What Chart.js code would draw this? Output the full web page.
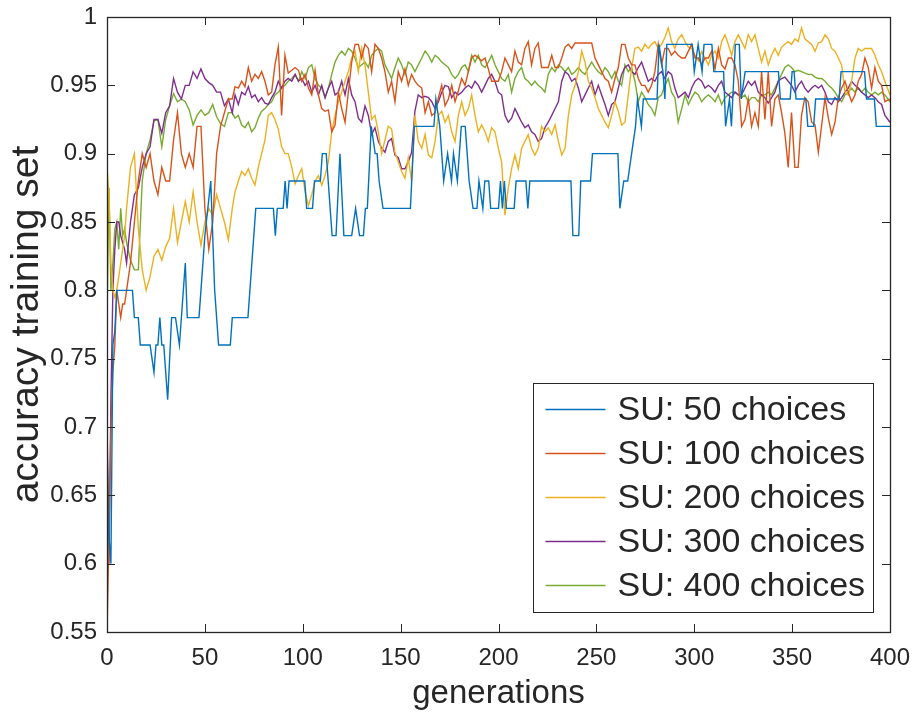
<!DOCTYPE html>
<html>
<head>
<meta charset="utf-8">
<script src="https://cdn.jsdelivr.net/npm/chart.js@4.4.0/dist/chart.umd.min.js"></script>
<style>
  html, body { margin: 0; padding: 0; background: #fff; }
  #wrap { width: 913px; height: 718px; }
</style>
</head>
<body>
<div id="wrap"><canvas id="accChart" width="913" height="718"></canvas></div>
<script>
// generations at which the 100/200/300/400 runs were read
const gens = [
  0,1,2,3,4,5,6,7,8,9,10,12,14,16,18,20,22,24,26,28,30,32,34,36,38,40,42,44,46,48,50,52,54,56,58,60,62,64,
  65.4,67.1,68.8,70.5,72.2,73.9,75.6,77.3,79.0,80.7,82.4,84.1,85.8,87.5,89.2,90.9,92.6,94.4,96.1,97.8,99.5,101.2,102.9,104.6,106.3,108.0,109.7,111.4,113.1,114.8,116.5,118.2,119.9,121.6,123.3,125.0,126.7,128.4,130.1,
  131.8,133.5,135.2,136.9,138.6,140.3,142.0,143.7,145.4,147.1,148.8,150.5,152.2,153.9,155.6,157.3,159.0,160.8,162.5,164.2,165.9,167.6,169.3,171.0,172.7,174.4,176.1,177.8,179.5,181.2,182.9,184.6,186.3,188.0,189.7,191.4,193.1,194.8,196.5,
  198.2,199.9,201.6,203.3,205.0,206.7,208.4,210.1,211.8,213.5,215.2,216.9,218.6,220.3,222.0,223.7,225.4,227.2,228.9,230.6,232.3,234.0,235.7,237.4,239.1,240.8,242.5,244.2,245.9,247.6,249.3,251.0,252.7,254.4,256.1,257.8,259.5,261.2,262.9,
  264.6,266.3,268.0,269.7,271.4,273.1,274.8,276.5,278.2,279.9,281.6,283.3,285.0,286.7,288.4,290.1,291.8,293.6,295.3,297.0,298.7,300.4,302.1,303.8,305.5,307.2,308.9,310.6,312.3,314.0,315.7,317.4,319.1,320.8,322.5,324.2,325.9,327.6,329.3,
  331.0,332.7,334.4,336.1,337.8,339.5,341.2,342.9,344.6,346.3,348.0,349.7,351.4,353.1,354.8,356.5,358.2,360.0,361.7,363.4,365.1,366.8,368.5,370.2,371.9,373.6,375.3,377.0,378.7,380.4,382.1,383.8,385.5,387.2,388.9,390.6,392.3,394.0,395.7,397.4,400
];

// the 50-choice run moves in steps of 0.02, so it keeps its own breakpoints
const gens50 = [
  0,1,2,3,4,5,13,14,16,17,22,24,25,26,27,28,29,31,33,35,37,40,41,47,48,50,53,55,57,63,64,72,76,
  85,86,87,90,91,92,93,101,102,105,106,109,110,112,113,115,117,119,121,125,127,129,131,132,133,135,137,138,139,141,
  155,157,167,168,170,171,172,174,176,177,179,181,183,185,187,189,190,192,193,195,196,200,201,202,203,204,208,209,
  214,215,216,237,238,241,242,247,248,261,262,264,266,268,270,271,273,274,281,282,284,285,286,299,300,302,304,305,
  309,310,315,316,318,319,321,323,324,326,343,344,349,350,351,352,357,358,361,362,374,375,387,388,392,393,400
];
const acc50 = [
  0.70,0.62,0.60,0.76,0.77,0.80,0.80,0.78,0.78,0.76,0.76,0.74,0.76,0.76,0.78,0.76,0.76,0.72,0.78,0.78,0.76,0.82,0.78,0.78,0.80,0.84,0.88,0.80,0.76,0.76,0.78,0.78,0.86,
  0.86,0.84,0.86,0.86,0.88,0.86,0.88,0.88,0.86,0.86,0.88,0.88,0.90,0.90,0.88,0.84,0.84,0.90,0.84,0.84,0.86,0.84,0.84,0.86,0.86,0.92,0.90,0.90,0.88,0.86,
  0.86,0.92,0.92,0.94,0.92,0.90,0.88,0.90,0.88,0.90,0.88,0.92,0.92,0.88,0.86,0.86,0.88,0.86,0.88,0.88,0.86,0.86,0.88,0.86,0.88,0.86,0.86,0.88,
  0.88,0.86,0.88,0.88,0.84,0.84,0.88,0.88,0.90,0.90,0.86,0.88,0.88,0.90,0.92,0.94,0.92,0.94,0.94,0.98,0.96,0.94,0.98,0.98,0.96,0.98,0.96,0.98,
  0.98,0.96,0.96,0.92,0.94,0.92,0.98,0.98,0.94,0.96,0.96,0.94,0.94,0.96,0.96,0.94,0.94,0.92,0.92,0.94,0.94,0.96,0.96,0.94,0.94,0.92,0.92
];

const acc100 = [
  0.55,0.62,0.70,0.74,0.76,0.80,0.79,0.78,0.79,0.79,0.80,0.82,0.85,0.88,0.90,0.89,0.90,0.88,0.87,0.89,0.88,0.88,0.91,0.93,0.90,0.89,0.90,0.89,0.92,0.92,0.86,0.83,0.85,0.90,0.92,0.93,0.94,0.94,
  0.949,0.948,0.953,0.949,0.963,0.953,0.958,0.955,0.960,0.953,0.943,0.945,0.965,0.978,0.928,0.972,0.959,0.961,0.963,0.961,0.953,0.958,0.948,0.943,0.961,0.943,0.933,0.931,0.932,0.916,0.921,0.945,0.933,0.923,0.945,0.967,0.980,0.980,0.970,
  0.980,0.977,0.960,0.980,0.977,0.970,0.960,0.945,0.953,0.938,0.960,0.953,0.962,0.950,0.958,0.953,0.950,0.948,0.930,0.938,0.928,0.930,0.941,0.950,0.935,0.940,0.950,0.938,0.946,0.955,0.950,0.960,0.970,0.972,0.970,0.968,0.970,0.962,0.953,
  0.953,0.953,0.960,0.970,0.965,0.960,0.975,0.967,0.965,0.977,0.982,0.965,0.977,0.981,0.963,0.963,0.963,0.972,0.963,0.963,0.970,0.978,0.980,0.977,0.981,0.981,0.981,0.981,0.981,0.981,0.970,0.965,0.960,0.955,0.953,0.945,0.955,0.963,0.980,
  0.980,0.970,0.965,0.965,0.955,0.950,0.950,0.945,0.950,0.960,0.980,0.965,0.977,0.977,0.972,0.975,0.972,0.970,0.970,0.975,0.980,0.970,0.970,0.965,0.970,0.970,0.975,0.962,0.977,0.965,0.962,0.970,0.970,0.965,0.953,0.920,0.925,0.940,0.920,
  0.930,0.920,0.960,0.925,0.960,0.920,0.940,0.943,0.930,0.915,0.890,0.930,0.890,0.890,0.928,0.941,0.938,0.923,0.921,0.901,0.921,0.941,0.926,0.914,0.923,0.941,0.948,0.953,0.945,0.938,0.943,0.953,0.958,0.970,0.963,0.948,0.963,0.953,0.950,0.938,0.940
];

const acc200 = [
  0.89,0.87,0.82,0.80,0.795,0.80,0.81,0.82,0.83,0.84,0.86,0.89,0.90,0.845,0.815,0.80,0.81,0.825,0.83,0.822,0.832,0.838,0.86,0.835,0.85,0.865,0.85,0.872,0.85,0.833,0.85,0.86,0.855,0.87,0.86,0.85,0.837,0.86,
  0.872,0.880,0.887,0.884,0.889,0.882,0.877,0.890,0.900,0.910,0.928,0.930,0.925,0.918,0.905,0.900,0.900,0.890,0.878,0.884,0.889,0.872,0.862,0.870,0.880,0.884,0.877,0.884,0.894,0.916,0.928,0.938,0.945,0.953,0.960,0.970,0.975,0.960,0.977,
  0.965,0.945,0.925,0.928,0.916,0.900,0.910,0.920,0.918,0.901,0.894,0.887,0.882,0.897,0.880,0.928,0.909,0.904,0.914,0.899,0.897,0.909,0.928,0.931,0.923,0.928,0.916,0.909,0.928,0.938,0.928,0.933,0.943,0.928,0.916,0.921,0.916,0.909,0.919,
  0.916,0.904,0.894,0.855,0.875,0.889,0.899,0.889,0.904,0.909,0.914,0.904,0.899,0.904,0.920,0.916,0.919,0.914,0.921,0.909,0.899,0.904,0.928,0.943,0.950,0.960,0.975,0.967,0.953,0.948,0.941,0.933,0.928,0.923,0.919,0.928,0.938,0.931,0.921,
  0.923,0.943,0.963,0.977,0.978,0.975,0.980,0.977,0.980,0.982,0.977,0.980,0.985,0.992,0.982,0.977,0.984,0.987,0.982,0.978,0.977,0.972,0.968,0.975,0.970,0.965,0.972,0.975,0.970,0.982,0.987,0.980,0.972,0.982,0.987,0.982,0.977,0.987,0.982,
  0.987,0.977,0.967,0.975,0.965,0.972,0.977,0.972,0.978,0.980,0.982,0.980,0.984,0.982,0.992,0.984,0.982,0.980,0.975,0.981,0.982,0.987,0.984,0.977,0.975,0.970,0.965,0.945,0.943,0.953,0.970,0.977,0.975,0.977,0.977,0.977,0.972,0.965,0.960,0.953,0.943
];

const acc300 = [
  0.69,0.60,0.72,0.80,0.83,0.85,0.85,0.84,0.835,0.83,0.82,0.85,0.87,0.875,0.89,0.90,0.905,0.925,0.925,0.915,0.93,0.935,0.955,0.945,0.94,0.95,0.95,0.96,0.955,0.962,0.955,0.952,0.95,0.945,0.945,0.935,0.94,0.93,
  0.943,0.936,0.945,0.943,0.949,0.941,0.943,0.938,0.941,0.937,0.936,0.941,0.945,0.953,0.948,0.953,0.955,0.953,0.958,0.953,0.955,0.950,0.953,0.945,0.950,0.943,0.950,0.941,0.948,0.953,0.943,0.945,0.953,0.943,0.955,0.943,0.938,0.926,0.923,
  0.935,0.928,0.914,0.919,0.909,0.904,0.901,0.909,0.911,0.899,0.897,0.889,0.889,0.894,0.901,0.931,0.943,0.941,0.942,0.941,0.938,0.933,0.938,0.945,0.950,0.949,0.941,0.945,0.943,0.945,0.948,0.950,0.948,0.953,0.950,0.945,0.950,0.955,0.958,
  0.953,0.945,0.943,0.928,0.923,0.926,0.933,0.928,0.923,0.919,0.921,0.916,0.914,0.909,0.911,0.919,0.923,0.928,0.933,0.938,0.953,0.960,0.958,0.953,0.955,0.948,0.938,0.943,0.948,0.953,0.943,0.950,0.943,0.936,0.928,0.936,0.938,0.948,0.958,
  0.963,0.965,0.960,0.958,0.963,0.967,0.960,0.953,0.955,0.953,0.958,0.960,0.955,0.960,0.958,0.948,0.941,0.943,0.945,0.941,0.948,0.953,0.955,0.953,0.948,0.950,0.948,0.945,0.950,0.953,0.945,0.943,0.941,0.945,0.943,0.943,0.948,0.953,0.950,
  0.953,0.945,0.943,0.941,0.937,0.941,0.945,0.953,0.955,0.956,0.953,0.950,0.945,0.950,0.953,0.948,0.945,0.948,0.950,0.948,0.950,0.945,0.938,0.936,0.941,0.938,0.941,0.945,0.948,0.953,0.950,0.948,0.945,0.943,0.941,0.943,0.941,0.938,0.936,0.928,0.923
];

const acc400 = [
  0.78,0.875,0.80,0.82,0.845,0.85,0.83,0.86,0.84,0.845,0.835,0.822,0.815,0.815,0.88,0.90,0.91,0.924,0.925,0.905,0.925,0.935,0.944,0.938,0.94,0.938,0.932,0.921,0.928,0.932,0.928,0.93,0.936,0.927,0.922,0.92,0.93,0.93,
  0.926,0.928,0.921,0.919,0.923,0.916,0.919,0.926,0.931,0.933,0.936,0.938,0.943,0.945,0.948,0.950,0.953,0.955,0.958,0.953,0.960,0.955,0.963,0.965,0.955,0.950,0.948,0.941,0.948,0.958,0.967,0.972,0.975,0.972,0.977,0.975,0.970,0.963,0.965,
  0.967,0.963,0.972,0.975,0.977,0.975,0.965,0.960,0.955,0.963,0.970,0.965,0.958,0.967,0.965,0.960,0.965,0.970,0.975,0.972,0.967,0.972,0.970,0.967,0.965,0.963,0.958,0.955,0.958,0.963,0.965,0.960,0.972,0.967,0.972,0.965,0.963,0.967,0.972,
  0.965,0.960,0.955,0.953,0.958,0.945,0.955,0.960,0.963,0.955,0.953,0.950,0.953,0.950,0.948,0.945,0.958,0.963,0.960,0.965,0.963,0.960,0.963,0.958,0.960,0.963,0.960,0.958,0.963,0.967,0.963,0.960,0.958,0.963,0.960,0.955,0.960,0.953,0.950,
  0.965,0.960,0.963,0.953,0.938,0.945,0.941,0.936,0.933,0.928,0.941,0.943,0.950,0.955,0.945,0.941,0.923,0.933,0.943,0.936,0.941,0.945,0.943,0.938,0.941,0.943,0.941,0.938,0.943,0.936,0.941,0.943,0.945,0.945,0.943,0.941,0.943,0.938,0.941,
  0.941,0.938,0.943,0.943,0.945,0.943,0.948,0.953,0.958,0.963,0.965,0.963,0.960,0.961,0.960,0.959,0.958,0.958,0.956,0.955,0.955,0.953,0.950,0.948,0.945,0.941,0.938,0.943,0.945,0.948,0.945,0.948,0.945,0.948,0.945,0.943,0.945,0.943,0.945,0.943,0.938
];

const seriesNames = ['SU: 50 choices', 'SU: 100 choices', 'SU: 200 choices', 'SU: 300 choices', 'SU: 400 choices'];
const seriesColors = ['#0072BD', '#D95319', '#EDB120', '#7E2F8E', '#77AC30'];
const xTicks = [0, 50, 100, 150, 200, 250, 300, 350, 400];
const yTicks = [0.55, 0.6, 0.65, 0.7, 0.75, 0.8, 0.85, 0.9, 0.95, 1];

const FONT = "'Liberation Sans', Arial, Helvetica, sans-serif";
const AXIS = '#262626';

function points(xs, ys) {
  return xs.map((g, i) => ({ x: g, y: ys[i] }));
}

const runs = [
  points(gens50, acc50),
  points(gens, acc100),
  points(gens, acc200),
  points(gens, acc300),
  points(gens, acc400)
];

// box, inward tick marks on all four sides, and the legend panel
const matlabFrame = {
  id: 'matlabFrame',
  afterDatasetsDraw(chart) {
    const { ctx, chartArea: a, scales: { x, y } } = chart;
    ctx.save();
    ctx.strokeStyle = AXIS;
    ctx.lineWidth = 1;
    ctx.beginPath();
    xTicks.forEach(v => {
      const px = Math.round(x.getPixelForValue(v)) + 0.5;
      ctx.moveTo(px, a.bottom); ctx.lineTo(px, a.bottom - 8);
      ctx.moveTo(px, a.top); ctx.lineTo(px, a.top + 8);
    });
    yTicks.forEach(v => {
      const py = Math.round(y.getPixelForValue(v)) + 0.5;
      ctx.moveTo(a.left, py); ctx.lineTo(a.left + 8, py);
      ctx.moveTo(a.right, py); ctx.lineTo(a.right - 8, py);
    });
    ctx.stroke();
    ctx.lineWidth = 1.3;
    ctx.strokeRect(Math.round(a.left) + 0.5, Math.round(a.top) + 0.5,
      Math.round(a.right - a.left), Math.round(a.bottom - a.top));

    // legend
    const w = 340, h = 229;
    const bx = Math.round(a.right - 17 - w) + 0.5;
    const by = Math.round(a.bottom - 20 - h) + 0.5;
    ctx.fillStyle = '#fff';
    ctx.fillRect(bx, by, w, h);
    ctx.lineWidth = 1;
    ctx.strokeRect(bx, by, w, h);
    ctx.font = '34px ' + FONT;
    ctx.textBaseline = 'middle';
    ctx.textAlign = 'left';
    chart.data.datasets.forEach((ds, i) => {
      const cy = by + 26 + i * 44;
      ctx.strokeStyle = ds.borderColor;
      ctx.lineWidth = 1.5;
      ctx.beginPath();
      ctx.moveTo(bx + 12, cy); ctx.lineTo(bx + 72, cy);
      ctx.stroke();
      ctx.fillStyle = AXIS;
      ctx.fillText(ds.label, bx + 84, cy + 1);
    });
    ctx.restore();
  }
};

new Chart(document.getElementById('accChart'), {
  type: 'line',
  data: {
    datasets: runs.map((pts, i) => ({
      label: seriesNames[i],
      data: pts,
      borderColor: seriesColors[i],
      backgroundColor: seriesColors[i],
      borderWidth: 1.4,
      pointRadius: 0,
      tension: 0,
      fill: false
    }))
  },
  options: {
    responsive: false,
    animation: false,
    devicePixelRatio: 1,
    layout: { padding: { top: 17, right: 23, left: 0, bottom: 0 } },
    plugins: { legend: { display: false }, tooltip: { enabled: false } },
    scales: {
      x: {
        type: 'linear',
        min: 0, max: 400,
        afterFit: s => { s.height = 86; s.paddingLeft = 0; s.paddingRight = 0; },
        afterBuildTicks: s => { s.ticks = xTicks.map(v => ({ value: v })); },
        grid: { display: false, drawTicks: false },
        border: { display: false },
        ticks: { color: AXIS, padding: 12, font: { family: FONT, size: 24 }, maxRotation: 0 },
        title: { display: true, text: 'generations', color: AXIS, font: { family: FONT, size: 33 }, padding: { bottom: 4 } }
      },
      y: {
        type: 'linear',
        min: 0.55, max: 1,
        afterFit: s => { s.width = 107; s.paddingTop = 0; s.paddingBottom = 0; },
        afterBuildTicks: s => { s.ticks = yTicks.map(v => ({ value: v })); },
        grid: { display: false, drawTicks: false },
        border: { display: false },
        ticks: { color: AXIS, padding: 10, font: { family: FONT, size: 24 }, callback: v => String(+v.toFixed(2)) },
        title: { display: true, text: 'accuracy training set', color: AXIS, font: { family: FONT, size: 39 }, padding: { top: 4 } }
      }
    }
  },
  plugins: [matlabFrame]
});
</script>
</body>
</html>
